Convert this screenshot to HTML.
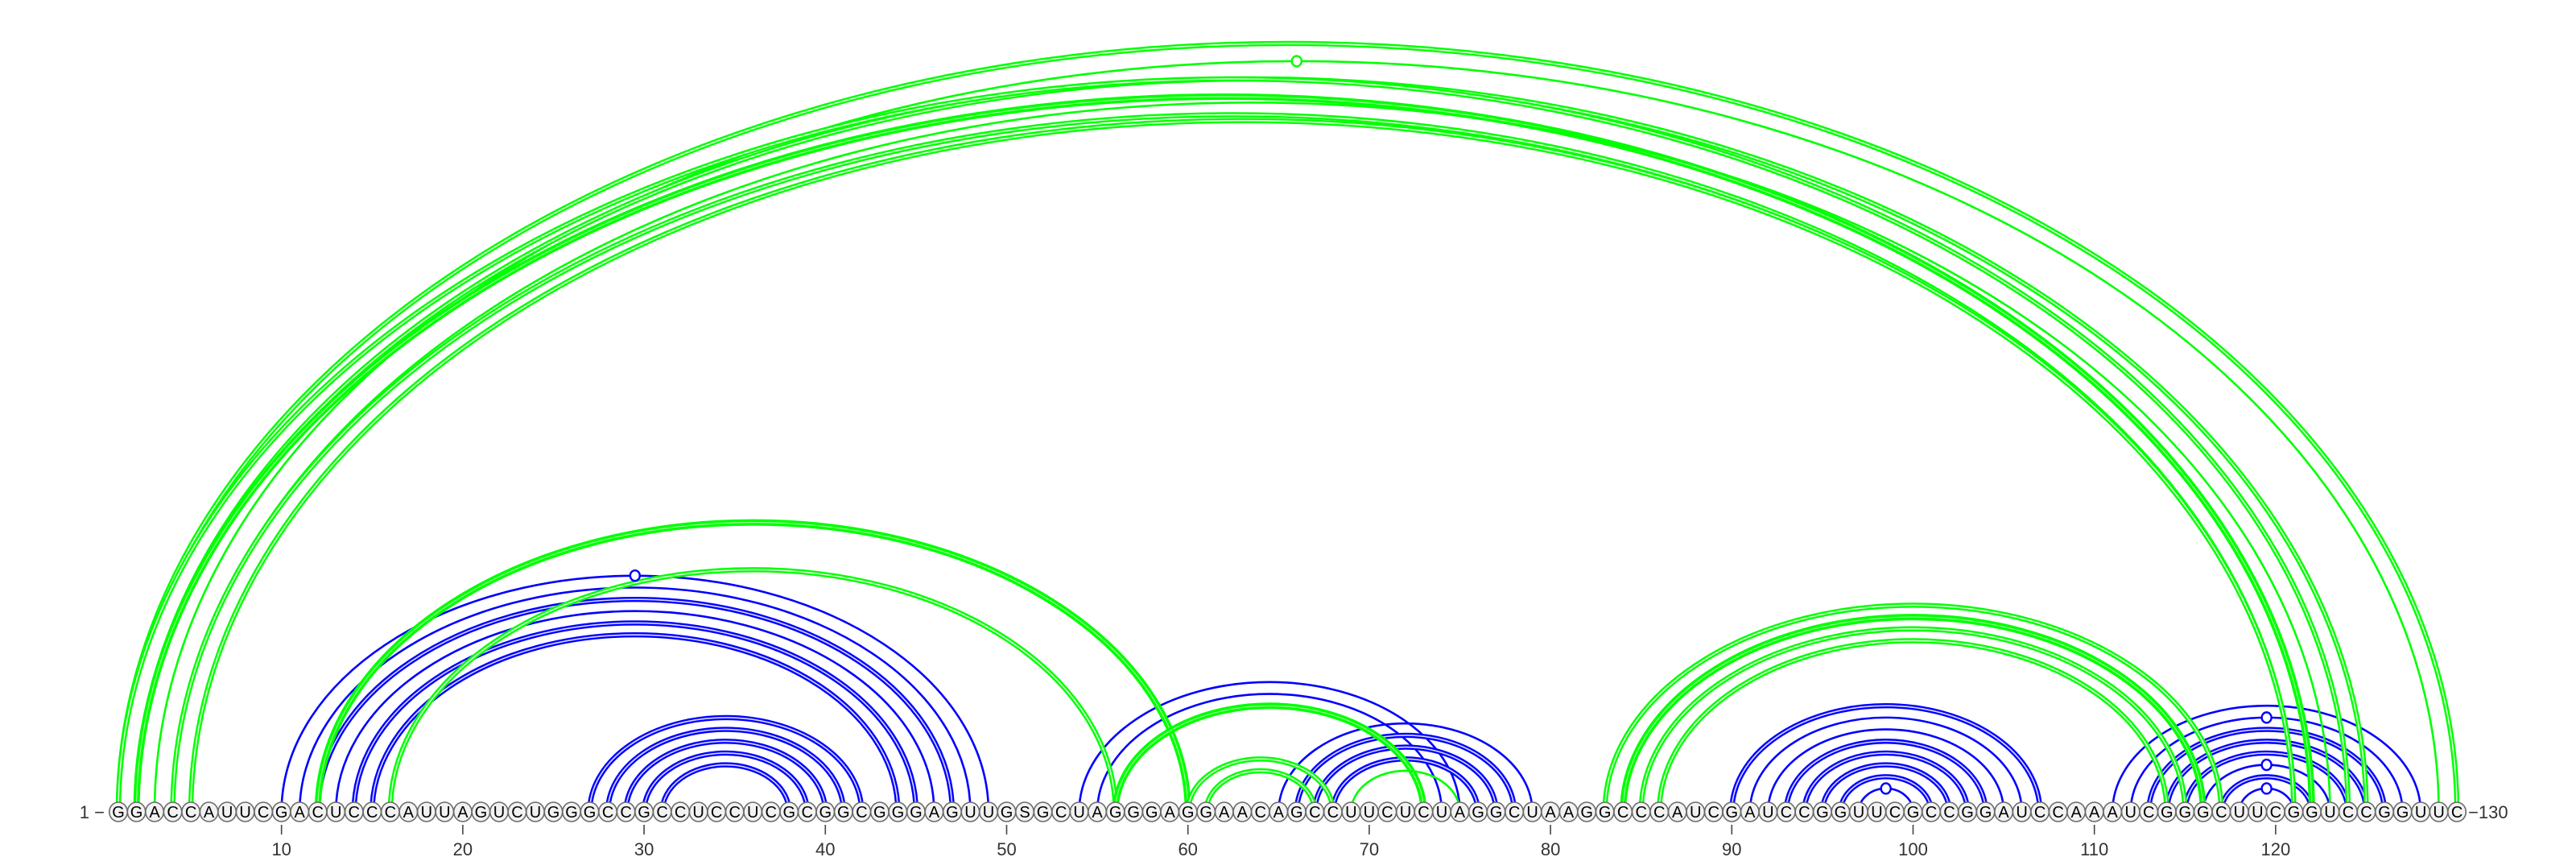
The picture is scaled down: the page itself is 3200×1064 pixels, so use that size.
<!DOCTYPE html>
<html><head><meta charset="utf-8">
<style>
html,body{margin:0;padding:0;background:#fff;}
svg{display:block;}
text{font-family:"Liberation Sans",sans-serif;}
</style></head>
<body>
<svg id="chart" width="3200" height="1064" viewBox="0 0 3200 1064" xmlns="http://www.w3.org/2000/svg">
<g id="blue-arcs"></g>
<g id="green-arcs"></g>
<g id="markers"></g>
<g id="nodes"></g>
<g id="axis"></g>
</svg>
<script>
const sequence = "GGACCAUUCGACUCCCAUUAGUCUGGGCCGCCUCCUCGCGGCGGGAGUUGSGCUAGGGAGGAACAGCCUUCUCUAGGCUAAGGCCCAUCGAUCCGGUUCGCCGGAUCCAAAUCGGGCUUCGGUCCGGUUC";
const tickPositions = [10,20,30,40,50,60,70,80,90,100,110,120];
const blueStart = [10,11,12,13,14,15, 27,28,29,30,31, 54,55,65,66,67,68, 90,91,92,93,94,95,96,97, 111,112,113,114,115,116,117,118];
const blueEnd   = [49,48,47,46,45,44, 42,41,40,39,38, 75,74,79,78,77,76, 107,106,105,104,103,102,101,100, 128,127,126,125,124,123,122,121];
const blueStyle = ["s","s","d","s","d","d", "d","d","d","d","d", "s","s","s","d","d","d", "d","s","s","d","d","d","d","s", "s","s","d","d","d","s","d","s"];
const blueMarked = [10,97,112,116,118];
const greenStart = [1,3,2,1,2,4,4,5, 12,16,56,60,61,69, 83,84,85,86];
const greenEnd   = [130,129,125,124,122,123,121,121, 60,56,73,68,67,75, 117,116,115,114];
const greenStyle = ["d","s","d","d","t","s","d","d", "t","d","t","d","d","s", "d","t","d","d"];
const greenMarked = [3];

const NS = "http://www.w3.org/2000/svg";
const X0 = 147, DX = 22.52, BASE = 1008;
function xPos(i){ return X0 + (i-1)*DX; }
function arcH(i,j){ return 0.652*(xPos(j)-xPos(i))/2 + 7; }
function arcPath(i,j){
  const x1 = xPos(i), x2 = xPos(j), rx = (x2-x1)/2, ry = arcH(i,j);
  return "M"+x1+" "+BASE+" A"+rx+" "+ry+" 0 0 1 "+x2+" "+BASE;
}
function drawArcs(gid, starts, ends, styles, marked, color){
  const g = document.getElementById(gid);
  const mg = document.getElementById("markers");
  for(let k=0;k<starts.length;k++){
    const i = starts[k], j = ends[k], st = styles[k];
    const d = arcPath(i,j);
    const p = document.createElementNS(NS,"path");
    
    
    p.setAttribute("d", d);
    p.setAttribute("fill","none");
    p.setAttribute("stroke", color);
    p.setAttribute("stroke-width", st==="s" ? 2.6 : (st==="d" ? 6.4 : 8));
    g.appendChild(p);
    if(st!=="s"){
      const w = document.createElementNS(NS,"path");
      
      
      w.setAttribute("d", d);
      w.setAttribute("fill","none");
      w.setAttribute("stroke","#ffffff");
      w.setAttribute("stroke-opacity", st==="d" ? 0.85 : 0.6);
      w.setAttribute("stroke-width", st==="d" ? 1.6 : 1.2);
      g.appendChild(w);
    }
    if(marked.indexOf(i)>=0){
      const c = document.createElementNS(NS,"ellipse");
      
      
      c.setAttribute("cx", (xPos(i)+xPos(j))/2);
      c.setAttribute("cy", BASE - arcH(i,j));
      c.setAttribute("rx", 6);
      c.setAttribute("ry", 6.5);
      c.setAttribute("fill","#fff");
      c.setAttribute("stroke", color);
      c.setAttribute("stroke-width", 2.4);
      mg.appendChild(c);
    }
  }
}
drawArcs("blue-arcs", blueStart, blueEnd, blueStyle, blueMarked, "#0000ff");
drawArcs("green-arcs", greenStart, greenEnd, greenStyle, greenMarked, "#00ff00");

const ng = document.getElementById("nodes");
for(let i=1;i<=sequence.length;i++){
  const c = document.createElementNS(NS,"ellipse");
  
  
  c.setAttribute("cx", xPos(i)); c.setAttribute("cy", BASE);
  c.setAttribute("rx", 11.2); c.setAttribute("ry", 12);
  c.setAttribute("fill","#f2f2f2"); c.setAttribute("stroke","#6a6a6a"); c.setAttribute("stroke-width",1.6);
  ng.appendChild(c);
  const t = document.createElementNS(NS,"text");
  
  
  t.setAttribute("x", xPos(i)); t.setAttribute("y", BASE+7);
  t.setAttribute("text-anchor","middle"); t.setAttribute("font-size","20");
  t.setAttribute("fill","#000");
  t.textContent = sequence[i-1];
  ng.appendChild(t);
}
const ag = document.getElementById("axis");
for(const p of tickPositions){
  const l = document.createElementNS(NS,"line");
  
  
  l.setAttribute("x1", xPos(p)); l.setAttribute("x2", xPos(p));
  l.setAttribute("y1", 1024); l.setAttribute("y2", 1036);
  l.setAttribute("stroke","#444"); l.setAttribute("stroke-width",1.6);
  ag.appendChild(l);
  const t = document.createElementNS(NS,"text");
  
  
  t.setAttribute("x", xPos(p)); t.setAttribute("y", 1062);
  t.setAttribute("text-anchor","middle"); t.setAttribute("font-size","22");
  t.setAttribute("fill","#333");
  t.textContent = p;
  ag.appendChild(t);
}
const s1 = document.createElementNS(NS,"text");


s1.setAttribute("x", 130); s1.setAttribute("y", BASE+8);
s1.setAttribute("text-anchor","end"); s1.setAttribute("font-size","22"); s1.setAttribute("fill","#333");
s1.textContent = "1 \u2212";
ag.appendChild(s1);
const s2 = document.createElementNS(NS,"text");


s2.setAttribute("x", xPos(sequence.length)+14); s2.setAttribute("y", BASE+8);
s2.setAttribute("text-anchor","start"); s2.setAttribute("font-size","22"); s2.setAttribute("fill","#333");
s2.textContent = "\u2212130";
ag.appendChild(s2);
</script>
</body></html>
